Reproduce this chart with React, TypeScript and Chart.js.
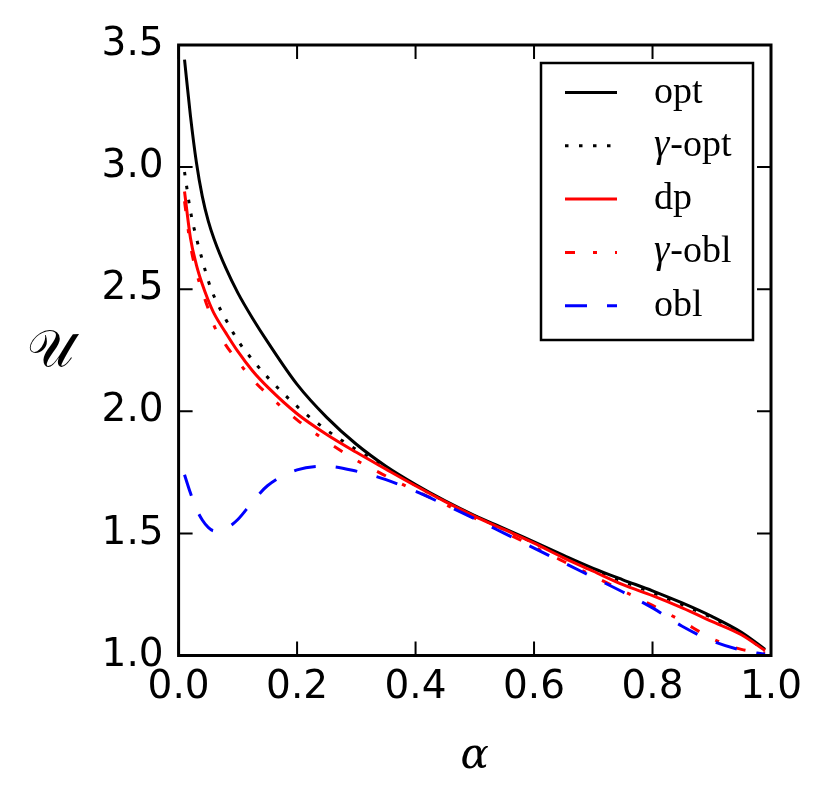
import React, { useEffect, useRef } from 'react'
import { Chart, registerables } from 'chart.js'

Chart.register(...registerables)

// valores
const alpha = [0.01, 0.02, 0.03, 0.04, 0.05, 0.06, 0.08, 0.1, 0.125, 0.15, 0.2, 0.25, 0.3, 0.35, 0.4, 0.45, 0.5, 0.55, 0.6, 0.65, 0.7, 0.75, 0.8, 0.85, 0.9, 0.95, 0.99]

const optU = [3.44, 3.21, 3.02, 2.88, 2.78, 2.705, 2.585, 2.485, 2.38, 2.285, 2.11, 1.975, 1.865, 1.775, 1.70, 1.633, 1.573, 1.52, 1.465, 1.41, 1.357, 1.31, 1.265, 1.215, 1.16, 1.095, 1.025]
const gammaOptU = [2.98, 2.82, 2.71, 2.62, 2.535, 2.47, 2.375, 2.29, 2.21, 2.14, 2.02, 1.923, 1.843, 1.77, 1.697, 1.631, 1.571, 1.516, 1.461, 1.406, 1.352, 1.303, 1.258, 1.208, 1.155, 1.09, 1.02]
const dpU = [2.90, 2.71, 2.60, 2.52, 2.455, 2.40, 2.32, 2.245, 2.165, 2.10, 1.99, 1.905, 1.832, 1.763, 1.695, 1.63, 1.57, 1.515, 1.46, 1.40, 1.345, 1.29, 1.245, 1.195, 1.14, 1.085, 1.02]
const gammaOblU = [2.86, 2.68, 2.57, 2.49, 2.42, 2.35, 2.27, 2.205, 2.13, 2.07, 1.965, 1.877, 1.80, 1.735, 1.675, 1.618, 1.562, 1.505, 1.445, 1.385, 1.325, 1.265, 1.205, 1.14, 1.07, 1.025, 1.01]
const oblU = [1.74, 1.665, 1.60, 1.555, 1.525, 1.51, 1.52, 1.557, 1.63, 1.695, 1.76, 1.775, 1.755, 1.72, 1.672, 1.617, 1.56, 1.50, 1.44, 1.38, 1.32, 1.26, 1.195, 1.12, 1.06, 1.022, 1.005]

const seriesNames = ['opt', 'γ-opt', 'dp', 'γ-obl', 'obl']
const xTickValues = [0, 0.2, 0.4, 0.6, 0.8, 1.0]
const yTickValues = [1.0, 1.5, 2.0, 2.5, 3.0, 3.5]

const styles = [
  { color: '#000000', dash: [] as number[] },
  { color: '#000000', dash: [3.5, 10.5] },
  { color: '#ff0000', dash: [] as number[] },
  { color: '#ff0000', dash: [10, 18, 4, 18] },
  { color: '#0000ff', dash: [22, 20] },
]

const seriesValues = [optU, gammaOptU, dpU, gammaOblU, oblU]

// marco, ticks hacia dentro, leyenda y etiqueta del eje y
const framePlugin = {
  id: 'mplFrame',
  afterDraw(chart: any) {
    const { ctx, chartArea } = chart
    const { left, right, top, bottom } = chartArea
    const xs = chart.scales.x
    const ys = chart.scales.y
    ctx.save()

    // ticks
    ctx.strokeStyle = '#000'
    ctx.lineWidth = 2
    ctx.beginPath()
    xTickValues.forEach((v) => {
      const px = xs.getPixelForValue(v)
      ctx.moveTo(px, bottom)
      ctx.lineTo(px, bottom - 14)
      ctx.moveTo(px, top)
      ctx.lineTo(px, top + 14)
    })
    yTickValues.forEach((v) => {
      const py = ys.getPixelForValue(v)
      ctx.moveTo(left, py)
      ctx.lineTo(left + 14, py)
      ctx.moveTo(right, py)
      ctx.lineTo(right - 14, py)
    })
    ctx.stroke()

    // marco
    ctx.lineWidth = 3
    ctx.strokeRect(left, top, right - left, bottom - top)

    // leyenda
    const boxL = 541
    const boxT = 63
    const boxW = 212
    const boxH = 277
    ctx.fillStyle = '#fff'
    ctx.fillRect(boxL, boxT, boxW, boxH)
    ctx.lineWidth = 2.5
    ctx.strokeStyle = '#000'
    ctx.strokeRect(boxL, boxT, boxW, boxH)

    seriesNames.forEach((name, i) => {
      const rowY = 92.5 + i * 53.3
      const st = styles[i]
      ctx.save()
      ctx.beginPath()
      ctx.rect(565, rowY - 5, 52, 10)
      ctx.clip()
      ctx.beginPath()
      ctx.strokeStyle = st.color
      ctx.lineWidth = 3
      ctx.lineCap = 'butt'
      ctx.setLineDash(st.dash)
      ctx.moveTo(565, rowY)
      ctx.lineTo(617, rowY)
      ctx.stroke()
      ctx.restore()

      ctx.fillStyle = '#000'
      ctx.textBaseline = 'alphabetic'
      ctx.textAlign = 'left'
      let tx = 654
      const baseY = rowY + 10
      if (name.startsWith('γ')) {
        ctx.font = 'italic 39px "Liberation Serif"'
        ctx.fillText('γ', tx, baseY)
        tx += ctx.measureText('γ').width + 1
        ctx.font = '38px "Liberation Serif"'
        ctx.fillText(name.slice(1), tx, baseY)
      } else {
        ctx.font = '38px "Liberation Serif"'
        ctx.fillText(name, tx, baseY)
      }
    })

    // etiqueta del eje y (vertical, sin rotar)
    ctx.fillStyle = '#000'
    ctx.font = '52px "DejaVu Serif"'
    ctx.textAlign = 'center'
    ctx.textBaseline = 'middle'
    ctx.fillText('𝒰', 50, 352)

    ctx.restore()
  },
}

const App: React.FC = () => {
  const canvasRef = useRef<HTMLCanvasElement>(null)
  const chartRef = useRef<Chart | null>(null)

  useEffect(() => {
    if (!canvasRef.current) return
    const ctx = canvasRef.current.getContext('2d')
    if (!ctx) return

    const datasets = seriesNames.map((name, i) => ({
      label: name,
      data: alpha.map((a, j) => ({ x: a, y: seriesValues[i][j] })),
      borderColor: styles[i].color,
      backgroundColor: styles[i].color,
      borderWidth: 3,
      borderDash: styles[i].dash,
      borderCapStyle: 'butt' as const,
      pointRadius: 0,
      fill: false,
      cubicInterpolationMode: 'monotone' as const,
      order: seriesNames.length - 1 - i,
    }))

    chartRef.current = new Chart(ctx, {
      type: 'line',
      data: { datasets },
      options: {
        animation: false,
        responsive: true,
        maintainAspectRatio: false,
        layout: { padding: { top: 45, right: 59, left: 0, bottom: 0 } },
        plugins: {
          legend: { display: false },
          tooltip: { enabled: false },
        },
        scales: {
          x: {
            type: 'linear',
            min: 0,
            max: 1,
            afterBuildTicks: (scale: any) => {
              scale.ticks = xTickValues.map((v) => ({ value: v }))
            },
            afterFit: (scale: any) => {
              scale.height = 154.5
            },
            ticks: {
              callback: (v: any) => Number(v).toFixed(1),
              font: { family: 'DejaVu Sans', size: 39 },
              color: '#000',
              padding: 9,
              maxRotation: 0,
              autoSkip: false,
            },
            grid: { display: false, drawTicks: false },
            border: { display: false },
            title: {
              display: true,
              text: 'α',
              color: '#000',
              font: { family: 'DejaVu Serif', size: 42, style: 'italic' },
              padding: { top: 0, bottom: 28 },
            },
          },
          y: {
            type: 'linear',
            min: 1,
            max: 3.5,
            afterBuildTicks: (scale: any) => {
              scale.ticks = yTickValues.map((v) => ({ value: v }))
            },
            afterFit: (scale: any) => {
              scale.width = 178.6
            },
            ticks: {
              callback: (v: any) => Number(v).toFixed(1),
              font: { family: 'DejaVu Sans', size: 39 },
              color: '#000',
              padding: 15,
              autoSkip: false,
            },
            grid: { display: false, drawTicks: false },
            border: { display: false },
          },
        },
      } as any,
      plugins: [framePlugin],
    })

    return () => {
      if (chartRef.current) {
        chartRef.current.destroy()
        chartRef.current = null
      }
    }
  }, [])

  return (
    <div style={{ position: 'absolute', left: 0, top: 0, width: '830px', height: '810px', background: '#fff' }}>
      <canvas ref={canvasRef} />
    </div>
  )
}

export default App
